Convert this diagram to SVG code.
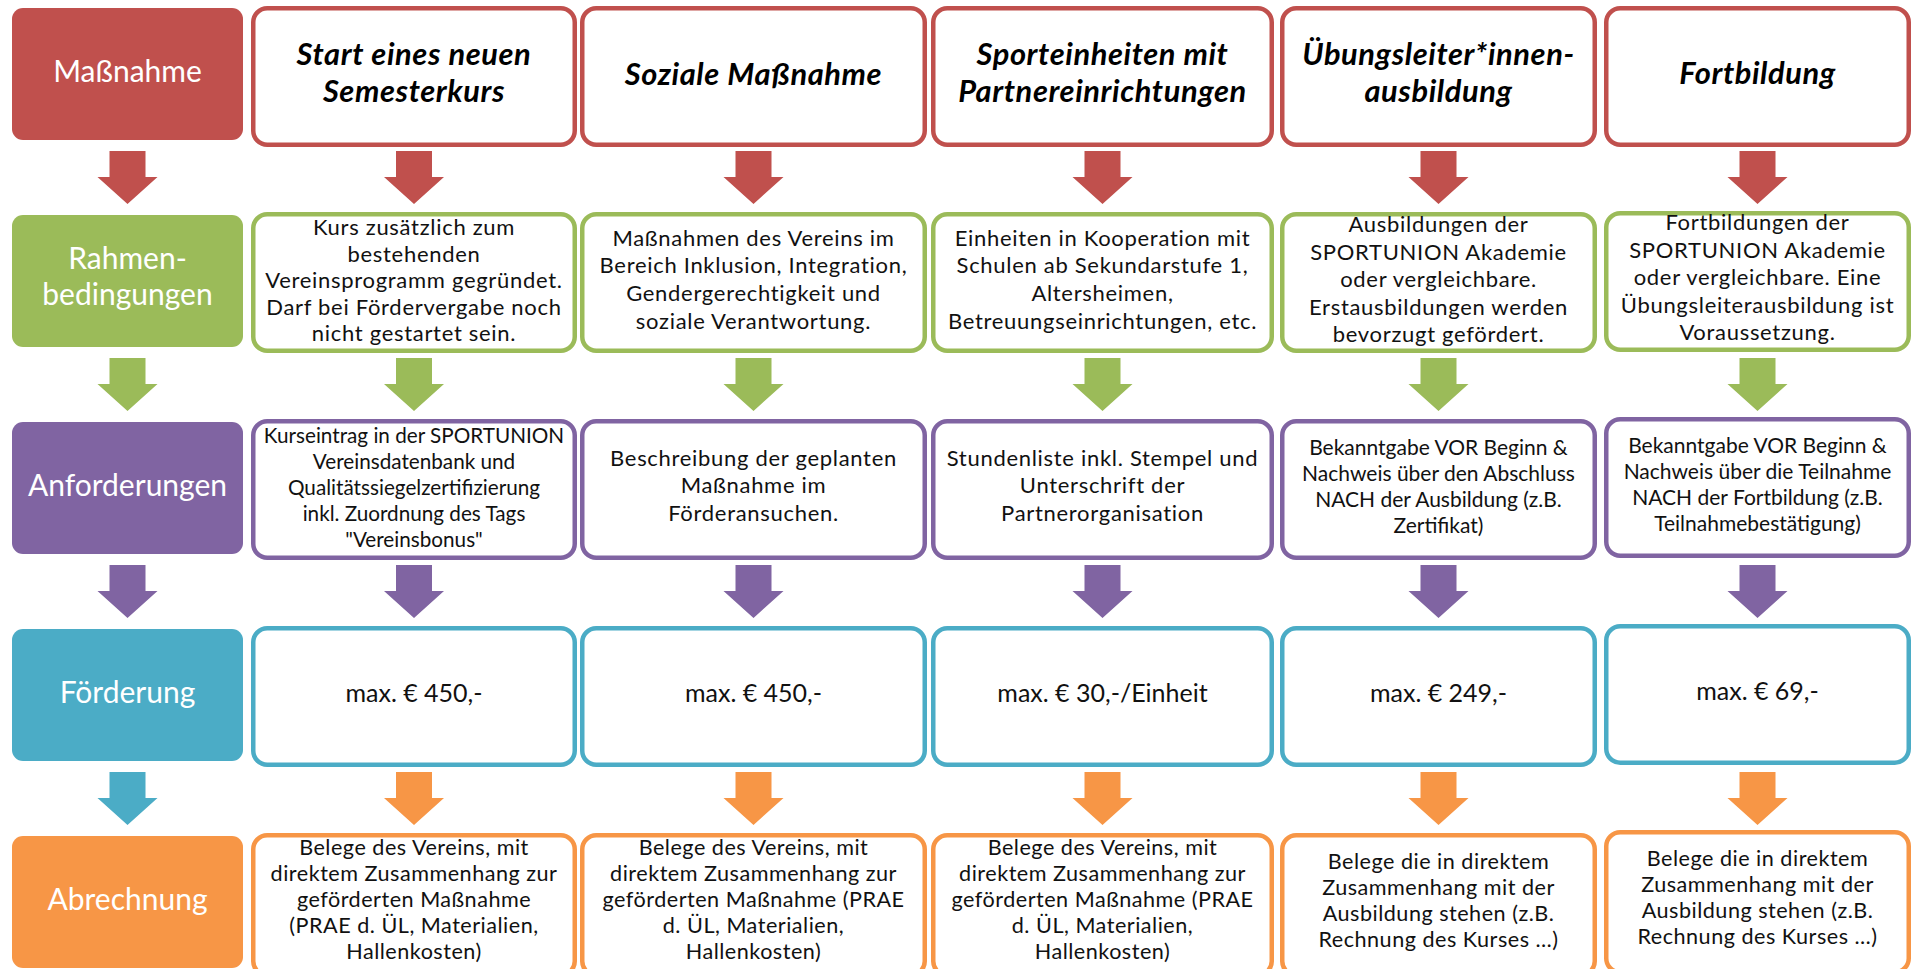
<svg xmlns="http://www.w3.org/2000/svg" width="1921" height="969" viewBox="0 0 1921 969">
<style>
.bg{fill:#ffffff}
.lab{stroke:none}
.box{fill:#ffffff;stroke-width:4.5}
.red{stroke:#C0504D}.grn{stroke:#9BBB59}.pur{stroke:#8064A2}.aqu{stroke:#4BACC6}.org{stroke:#F79646}
.fred{fill:#C0504D}.fgrn{fill:#9BBB59}.fpur{fill:#8064A2}.faqu{fill:#4BACC6}.forg{fill:#F79646}
text{font-family:Lato,"Open Sans","Liberation Sans",sans-serif;text-anchor:middle}
.lt{fill:#ffffff;font-size:30px}
.hd{fill:#000000;font-size:30.8px;font-weight:bold;font-style:italic;letter-spacing:0.6px}
.t{fill:#111111;font-size:22px;letter-spacing:0.7px}
.s{fill:#111111;font-size:20.7px}
.xs{fill:#111111;font-size:21px}
.m{fill:#111111;font-size:25px}
.b{fill:#111111;font-size:21.6px;letter-spacing:0.5px}
</style>
<defs>
<path id="arr" d="M-18,0 H18 V26 H30 L0,53 L-30,26 H-18 Z"/>
</defs>
<rect class="bg" x="0" y="0" width="1921" height="969"/>

<g id="connectors">
<use href="#arr" class="fred" x="127.5" y="151"/>
<use href="#arr" class="fred" x="414" y="151"/>
<use href="#arr" class="fred" x="753.5" y="151"/>
<use href="#arr" class="fred" x="1102.5" y="151"/>
<use href="#arr" class="fred" x="1438.5" y="151"/>
<use href="#arr" class="fred" x="1757.5" y="151"/>
<use href="#arr" class="fgrn" x="127.5" y="358"/>
<use href="#arr" class="fgrn" x="414" y="358"/>
<use href="#arr" class="fgrn" x="753.5" y="358"/>
<use href="#arr" class="fgrn" x="1102.5" y="358"/>
<use href="#arr" class="fgrn" x="1438.5" y="358"/>
<use href="#arr" class="fgrn" x="1757.5" y="358"/>
<use href="#arr" class="fpur" x="127.5" y="565"/>
<use href="#arr" class="fpur" x="414" y="565"/>
<use href="#arr" class="fpur" x="753.5" y="565"/>
<use href="#arr" class="fpur" x="1102.5" y="565"/>
<use href="#arr" class="fpur" x="1438.5" y="565"/>
<use href="#arr" class="fpur" x="1757.5" y="565"/>
<use href="#arr" class="faqu" x="127.5" y="772"/>
<use href="#arr" class="forg" x="414" y="772"/>
<use href="#arr" class="forg" x="753.5" y="772"/>
<use href="#arr" class="forg" x="1102.5" y="772"/>
<use href="#arr" class="forg" x="1438.5" y="772"/>
<use href="#arr" class="forg" x="1757.5" y="772"/>
</g>

<!-- Row labels -->
<g id="label-massnahme"><rect class="lab fred" x="12" y="8" width="231" height="132" rx="11"/><text class="lt" x="127.5" y="82">Maßnahme</text></g>
<g id="label-rahmen"><rect class="lab fgrn" x="12" y="215" width="231" height="132" rx="11"/><text class="lt" x="127.5" y="269">Rahmen-</text><text class="lt" x="127.5" y="305">bedingungen</text></g>
<g id="label-anforderungen"><rect class="lab fpur" x="12" y="422" width="231" height="132" rx="11"/><text class="lt" x="127.5" y="496">Anforderungen</text></g>
<g id="label-foerderung"><rect class="lab faqu" x="12" y="629" width="231" height="132" rx="11"/><text class="lt" x="127.5" y="703">Förderung</text></g>
<g id="label-abrechnung"><rect class="lab forg" x="12" y="836" width="231" height="132" rx="11"/><text class="lt" x="127.5" y="910">Abrechnung</text></g>

<!-- Row 1 -->
<g id="m1"><rect class="box red" x="253.25" y="8.25" width="321.5" height="136.5" rx="14"/><text class="hd" x="414" y="65">Start eines neuen</text><text class="hd" x="414" y="102">Semesterkurs</text></g>
<g id="m2"><rect class="box red" x="582.25" y="8.25" width="342.5" height="136.5" rx="14"/><text class="hd" x="753.5" y="85">Soziale Maßnahme</text></g>
<g id="m3"><rect class="box red" x="933.25" y="8.25" width="338.5" height="136.5" rx="14"/><text class="hd" x="1102.5" y="65">Sporteinheiten mit</text><text class="hd" x="1102.5" y="102">Partnereinrichtungen</text></g>
<g id="m4"><rect class="box red" x="1282.25" y="8.25" width="312.5" height="136.5" rx="14"/><text class="hd" x="1438.5" y="65">Übungsleiter*innen-</text><text class="hd" x="1438.5" y="102">ausbildung</text></g>
<g id="m5"><rect class="box red" x="1606.25" y="8.25" width="302.5" height="136.5" rx="14"/><text class="hd" x="1757.5" y="84">Fortbildung</text></g>

<!-- Row 2 -->
<g id="r1"><rect class="box grn" x="253.25" y="214.25" width="321.5" height="136.5" rx="14"/>
<text class="t" x="414" y="235">Kurs zusätzlich zum</text><text class="t" x="414" y="261.5">bestehenden</text><text class="t" x="414" y="288">Vereinsprogramm gegründet.</text><text class="t" x="414" y="314.5">Darf bei Fördervergabe noch</text><text class="t" x="414" y="341">nicht gestartet sein.</text></g>
<g id="r2"><rect class="box grn" x="582.25" y="214.25" width="342.5" height="136.5" rx="14"/>
<text class="t" x="753.5" y="246">Maßnahmen des Vereins im</text><text class="t" x="753.5" y="273">Bereich Inklusion, Integration,</text><text class="t" x="753.5" y="301">Gendergerechtigkeit und</text><text class="t" x="753.5" y="329">soziale Verantwortung.</text></g>
<g id="r3"><rect class="box grn" x="933.25" y="214.25" width="338.5" height="136.5" rx="14"/>
<text class="t" x="1102.5" y="246">Einheiten in Kooperation mit</text><text class="t" x="1102.5" y="273">Schulen ab Sekundarstufe 1,</text><text class="t" x="1102.5" y="301">Altersheimen,</text><text class="t" x="1102.5" y="329">Betreuungseinrichtungen, etc.</text></g>
<g id="r4"><rect class="box grn" x="1282.25" y="214.25" width="312.5" height="136.5" rx="14"/>
<text class="t" x="1438.5" y="232">Ausbildungen der</text><text class="t" x="1438.5" y="259.5">SPORTUNION Akademie</text><text class="t" x="1438.5" y="287">oder vergleichbare.</text><text class="t" x="1438.5" y="314.5">Erstausbildungen werden</text><text class="t" x="1438.5" y="342">bevorzugt gefördert.</text></g>
<g id="r5"><rect class="box grn" x="1606.25" y="213.25" width="302.5" height="136.5" rx="14"/>
<text class="t" x="1757.5" y="230">Fortbildungen der</text><text class="t" x="1757.5" y="257.5">SPORTUNION Akademie</text><text class="t" x="1757.5" y="285">oder vergleichbare. Eine</text><text class="t" x="1757.5" y="312.5">Übungsleiterausbildung ist</text><text class="t" x="1757.5" y="340">Voraussetzung.</text></g>

<!-- Row 3 -->
<g id="a1"><rect class="box pur" x="253.25" y="421.25" width="321.5" height="136.5" rx="14"/>
<text class="s" x="414" y="443">Kurseintrag in der SPORTUNION</text><text class="s" x="414" y="469">Vereinsdatenbank und</text><text class="s" x="414" y="495">Qualitätssiegelzertifizierung</text><text class="s" x="414" y="521">inkl. Zuordnung des Tags</text><text class="s" x="414" y="547">"Vereinsbonus"</text></g>
<g id="a2"><rect class="box pur" x="582.25" y="421.25" width="342.5" height="136.5" rx="14"/>
<text class="t" x="753.5" y="466">Beschreibung der geplanten</text><text class="t" x="753.5" y="493">Maßnahme im</text><text class="t" x="753.5" y="521">Förderansuchen.</text></g>
<g id="a3"><rect class="box pur" x="933.25" y="421.25" width="338.5" height="136.5" rx="14"/>
<text class="t" x="1102.5" y="466">Stundenliste inkl. Stempel und</text><text class="t" x="1102.5" y="493">Unterschrift der</text><text class="t" x="1102.5" y="521">Partnerorganisation</text></g>
<g id="a4"><rect class="box pur" x="1282.25" y="421.25" width="312.5" height="136.5" rx="14"/>
<text class="xs" x="1438.5" y="455">Bekanntgabe VOR Beginn &amp;</text><text class="xs" x="1438.5" y="481">Nachweis über den Abschluss</text><text class="xs" x="1438.5" y="507">NACH der Ausbildung (z.B.</text><text class="xs" x="1438.5" y="533">Zertifikat)</text></g>
<g id="a5"><rect class="box pur" x="1606.25" y="419.25" width="302.5" height="136.5" rx="14"/>
<text class="xs" x="1757.5" y="453">Bekanntgabe VOR Beginn &amp;</text><text class="xs" x="1757.5" y="479">Nachweis über die Teilnahme</text><text class="xs" x="1757.5" y="505">NACH der Fortbildung (z.B.</text><text class="xs" x="1757.5" y="531">Teilnahmebestätigung)</text></g>

<!-- Row 4 -->
<g id="f1"><rect class="box aqu" x="253.25" y="628.25" width="321.5" height="136.5" rx="14"/><text class="m" x="414" y="702">max. € 450,-</text></g>
<g id="f2"><rect class="box aqu" x="582.25" y="628.25" width="342.5" height="136.5" rx="14"/><text class="m" x="753.5" y="702">max. € 450,-</text></g>
<g id="f3"><rect class="box aqu" x="933.25" y="628.25" width="338.5" height="136.5" rx="14"/><text class="m" x="1102.5" y="702">max. € 30,-/Einheit</text></g>
<g id="f4"><rect class="box aqu" x="1282.25" y="628.25" width="312.5" height="136.5" rx="14"/><text class="m" x="1438.5" y="702">max. € 249,-</text></g>
<g id="f5"><rect class="box aqu" x="1606.25" y="626.25" width="302.5" height="136.5" rx="14"/><text class="m" x="1757.5" y="700">max. € 69,-</text></g>

<!-- Row 5 -->
<g id="b1"><rect class="box org" x="253.25" y="835.25" width="321.5" height="140" rx="14"/>
<text class="b" x="414" y="855">Belege des Vereins, mit</text><text class="b" x="414" y="881">direktem Zusammenhang zur</text><text class="b" x="414" y="907">geförderten Maßnahme</text><text class="b" x="414" y="933">(PRAE d. ÜL, Materialien,</text><text class="b" x="414" y="959">Hallenkosten)</text></g>
<g id="b2"><rect class="box org" x="582.25" y="835.25" width="342.5" height="140" rx="14"/>
<text class="b" x="753.5" y="855">Belege des Vereins, mit</text><text class="b" x="753.5" y="881">direktem Zusammenhang zur</text><text class="b" x="753.5" y="907">geförderten Maßnahme (PRAE</text><text class="b" x="753.5" y="933">d. ÜL, Materialien,</text><text class="b" x="753.5" y="959">Hallenkosten)</text></g>
<g id="b3"><rect class="box org" x="933.25" y="835.25" width="338.5" height="140" rx="14"/>
<text class="b" x="1102.5" y="855">Belege des Vereins, mit</text><text class="b" x="1102.5" y="881">direktem Zusammenhang zur</text><text class="b" x="1102.5" y="907">geförderten Maßnahme (PRAE</text><text class="b" x="1102.5" y="933">d. ÜL, Materialien,</text><text class="b" x="1102.5" y="959">Hallenkosten)</text></g>
<g id="b4"><rect class="box org" x="1282.25" y="835.25" width="312.5" height="140" rx="14"/>
<text class="b" x="1438.5" y="869">Belege die in direktem</text><text class="b" x="1438.5" y="895">Zusammenhang mit der</text><text class="b" x="1438.5" y="921">Ausbildung stehen (z.B.</text><text class="b" x="1438.5" y="947">Rechnung des Kurses …)</text></g>
<g id="b5"><rect class="box org" x="1606.25" y="832.25" width="302.5" height="140" rx="14"/>
<text class="b" x="1757.5" y="866">Belege die in direktem</text><text class="b" x="1757.5" y="892">Zusammenhang mit der</text><text class="b" x="1757.5" y="918">Ausbildung stehen (z.B.</text><text class="b" x="1757.5" y="944">Rechnung des Kurses …)</text></g>
</svg>
